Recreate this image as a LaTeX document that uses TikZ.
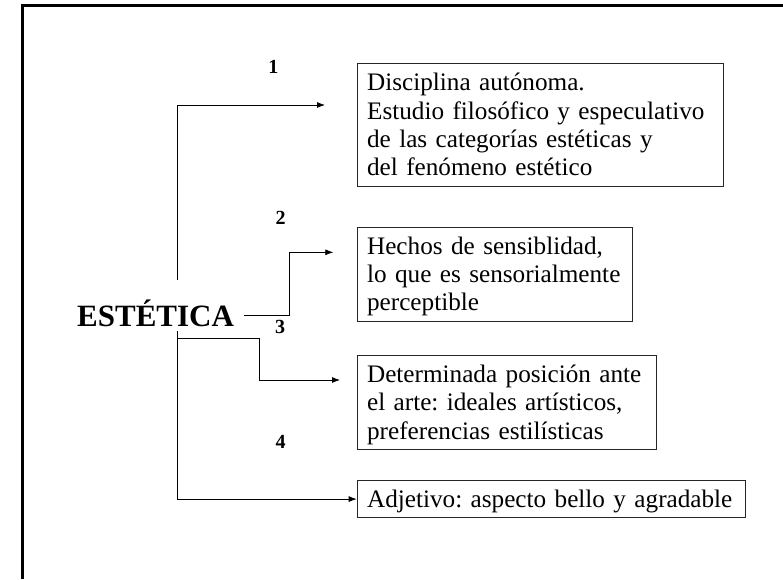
\documentclass[tikz,border=0pt]{standalone}
\usepackage{fontspec}
\setmainfont{Liberation Serif}
\usetikzlibrary{positioning, arrows.meta, calc}

\newcommand{\cajastrut}{\rule[-5.8pt]{0pt}{28.3pt}}

\begin{document}
\begin{tikzpicture}[x=1pt, y=-1pt, every node/.style={inner sep=0pt},
    caja/.style={draw=black!85, line width=0.8pt, anchor=north west, align=left,
        inner xsep=10pt, inner ysep=4.5pt,
        font=\fontsize{25.2}{28.3}\selectfont\frenchspacing,
        execute at begin node=\cajastrut, execute at end node=\cajastrut},
    num/.style={font=\fontsize{20}{20}\bfseries\selectfont},
    flecha/.style={line width=0.8pt, -{Latex[length=8pt,width=6pt]}}]

    \useasboundingbox (0,0) rectangle (783,579);
    % marco
    \draw[line width=2.7pt] (22.7,579) -- (22.7,5.3) -- (783,5.3);

    \node[font=\fontsize{31}{31}\bfseries\selectfont, anchor=base west] (est) at (77,326.5) {ESTÉTICA};

    \node[caja, text width=346pt] (b1) at (356.7,63.3) {Disciplina autónoma.\\Estudio filosófico y especulativo\\de las categorías estéticas y\\del fenómeno estético};
    \node[caja, text width=255pt] (b2) at (356.7,226.7) {Hechos de sensiblidad,\\lo que es sensorialmente\\perceptible};
    \node[caja, text width=279pt] (b3) at (356.7,355) {Determinada posición ante\\el arte: ideales artísticos,\\preferencias estilísticas};
    \node[caja, text width=368pt] (b4) at (356.7,480) {Adjetivo: aspecto bello y agradable};

    \node[num] (n1) at (273.3,67.3) {1};
    \node[num] (n2) at (280.7,218) {2};
    \node[num] (n3) at (280,327) {3};
    \node[num] (n4) at (280.7,441.7) {4};

    \coordinate (a1) at (177,280);
    \coordinate (e1) at (325,105);
    \coordinate (a2) at (244.3,315.7);
    \coordinate (e2) at (333.3,252.3);
    \coordinate (a3) at (177,331);
    \coordinate (a4) at (177,338.3);
    \coordinate (e3) at (340,380);

    \draw[flecha] (a1) |- (e1);
    \draw[flecha] (a2) -| ([xshift=-44.3pt]e2) -- (e2);
    \draw[flecha] (a4) -| ([xshift=-80.7pt]e3) -- (e3);
    \draw[flecha] (a3) |- (b4.west);
\end{tikzpicture}
\end{document}
